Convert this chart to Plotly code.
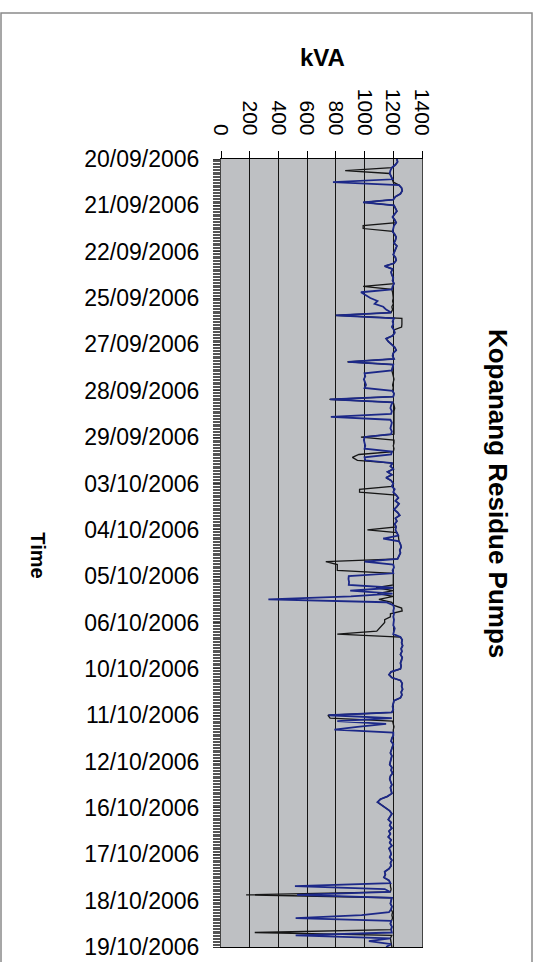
import plotly.graph_objects as go

# Category labels on the time axis (one label every 16 readings)
dates = ["20/09/2006", "21/09/2006", "22/09/2006", "25/09/2006", "27/09/2006",
         "28/09/2006", "29/09/2006", "03/10/2006", "04/10/2006", "05/10/2006",
         "06/10/2006", "10/10/2006", "11/10/2006", "12/10/2006", "16/10/2006",
         "17/10/2006", "18/10/2006", "19/10/2006"]
points_per_label = 16

# kVA readings, one row per labelled day
kva_blue = [
    1225, 1230, 1215, 1190, 1180, 1175, 1185, 1195, 780, 1240, 1258, 1262, 1250, 1215, 1200, 990,
    1205, 1215, 1225, 1210, 1195, 1210, 1220, 1205, 1200, 1195, 1210, 1220, 1215, 1205, 1225, 1215,
    1210, 1200, 1215, 1220, 1205, 1140, 1195, 1185, 1190, 1200, 1195, 1205, 1195, 1190, 975, 1005,
    1040, 1090, 1070, 1130, 1150, 1185, 800, 1205, 1195, 1200, 1190, 1205, 1210, 1195, 1150, 1165,
    1190, 1210, 1220, 1200, 1195, 1205, 885, 1200, 1195, 1190, 1000, 1005, 995, 1000, 1010, 1000,
    1195, 1205, 1200, 760, 1195, 1185, 1180, 1190, 1185, 765, 1180, 1190, 1185, 1180, 1190, 1185,
    1000, 995, 1000, 1005, 1000, 1190, 1185, 1000, 1005, 1195, 1180, 1200, 1160, 1190, 1150, 1185,
    1200, 1190, 1210, 1200, 1220, 1235, 1215, 1240, 1225, 1205, 1230, 1245, 1215, 1225, 1210, 1220,
    1215, 1225, 1235, 1130, 1240, 1250, 1255, 1245, 1250, 1240, 1230, 1000, 1200, 1205, 1195, 1200,
    890, 888, 892, 890, 1200, 900, 1195, 905, 330, 1150, 1200, 1205, 1200, 1205, 1200, 1205,
    1205, 1200, 1210, 1205, 1200, 1250, 1262, 1258, 1265, 1255, 1260, 1250, 1262, 1258, 1250, 1255,
    1250, 1185, 1170, 1190, 1250, 1262, 1258, 1265, 1255, 1260, 1250, 1205, 1200, 1195, 1200, 1190,
    750, 1190, 810, 1150, 950, 790, 1200, 1200, 1190, 1185, 1200, 1195, 1185, 1180, 1190, 1185,
    1180, 1175, 1190, 1185, 1195, 1180, 1175, 1185, 1190, 1180, 1185, 1190, 1160, 1110, 1090, 1120,
    1150, 1175, 1190, 1180, 1165, 1185, 1175, 1190, 1170, 1180, 1165, 1185, 1175, 1190, 1170, 1180,
    1185, 1175, 1190, 1180, 1185, 1170, 1140, 1145, 1135, 1170, 1180, 515, 1140, 1180, 530, 1190,
    1185, 1180, 1190, 1185, 1170, 980, 520, 1185, 1180, 1190, 1185, 1190, 520, 1180, 1030, 1185,
    1150,
]

kva_black = [
    1225, 1230, 1215, 1190, 865, 1175, 1185, 1195, 1200, 1240, 1258, 1262, 1250, 1215, 1200, 990,
    1205, 1215, 1225, 1210, 1195, 1210, 1220, 990, 990, 1195, 1210, 1220, 1215, 1205, 1225, 1215,
    1210, 1200, 1215, 1220, 1205, 1140, 1195, 1185, 1190, 1200, 1195, 1205, 990, 1190, 1195, 1200,
    1200, 1195, 1200, 1190, 1195, 1185, 795, 1260, 1262, 1260, 1258, 1205, 1210, 1195, 1150, 1165,
    1190, 1210, 1220, 1200, 1195, 1205, 880, 1200, 1195, 1190, 1195, 1200, 1205, 1200, 1195, 1200,
    1195, 1205, 1200, 755, 1200, 1205, 1210, 1205, 1205, 1210, 1205, 1210, 1205, 1205, 1210, 1205,
    975, 1205, 1205, 1200, 1205, 1200, 960, 915, 950, 1195, 1180, 1200, 1160, 1190, 1150, 1185,
    1200, 1190, 965, 965, 1220, 1235, 1215, 1240, 1225, 1205, 1230, 1245, 1215, 1225, 1210, 1220,
    1020, 1225, 1235, 1235, 1240, 1250, 1255, 1245, 1250, 1240, 1230, 730, 810, 810, 810, 1200,
    1200, 1200, 1205, 1200, 1080, 1200, 1090, 1200, 1100, 1190, 1200, 1258, 1262, 1180, 1180, 1140,
    1140, 1120, 1100, 1085, 810, 1250, 1262, 1258, 1265, 1255, 1260, 1250, 1262, 1258, 1250, 1255,
    1250, 1185, 1170, 1190, 1250, 1262, 1258, 1265, 1255, 1260, 1250, 1205, 1200, 1195, 1200, 1190,
    745, 760, 1195, 1200, 1205, 1200, 1200, 1200, 1190, 1185, 1200, 1195, 1185, 1180, 1190, 1185,
    1180, 1175, 1190, 1185, 1195, 1180, 1175, 1185, 1190, 1180, 1185, 1190, 1160, 1110, 1090, 1120,
    1150, 1175, 1190, 1180, 1165, 1185, 1175, 1190, 1170, 1180, 1165, 1185, 1175, 1190, 1170, 1180,
    1185, 1175, 1190, 1180, 1185, 1170, 1140, 1145, 1135, 1170, 1180, 1180, 1185, 1180, 175, 1190,
    1185, 1180, 1190, 1185, 1195, 1190, 1195, 1185, 1180, 1190, 1185, 235, 1190, 1180, 1185, 1190,
    1190,
]

kva_ticks = [0, 200, 400, 600, 800, 1000, 1200, 1400]

FONT = "Liberation Sans, Arial, sans-serif"
readings = list(range(len(kva_blue)))
label_pos = [k * points_per_label for k in range(len(dates))]
last = len(kva_blue) - 1

fig = go.Figure()
fig.add_trace(go.Scatter(x=kva_black, y=readings, mode="lines",
                         line=dict(color="#161616", width=1.3), showlegend=False))
fig.add_trace(go.Scatter(x=kva_blue, y=readings, mode="lines",
                         line=dict(color="#1C2888", width=1.8), showlegend=False))

fig.update_layout(
    width=540, height=962,
    margin=dict(l=221, r=118, t=159, b=15, autoexpand=False),
    paper_bgcolor="white",
    plot_bgcolor="#BEC0C3",
    font=dict(family=FONT, color="black"),
    xaxis=dict(
        side="top", range=[0, 1400], tickvals=kva_ticks,
        tickangle=90, tickfont=dict(size=21, family=FONT),
        ticks="outside", ticklen=7, tickcolor="black",
        showgrid=True, gridcolor="#141414", gridwidth=1.2,
        showline=True, linecolor="black", linewidth=1.2, mirror=True,
        zeroline=False, ticklabelstandoff=8, automargin=False,
        ticklabeloverflow="allow",
    ),
    yaxis=dict(
        range=[last, 0], tickvals=label_pos, ticktext=dates,
        tickfont=dict(size=23, family=FONT),
        ticks="outside", ticklen=7, tickcolor="#333",
        minor=dict(dtick=0.5, ticks="outside", ticklen=7, tickcolor="#555", tickwidth=1),
        showgrid=False, zeroline=False,
        showline=True, linecolor="#444", linewidth=1, mirror=True,
        ticklabelstandoff=9, automargin=False,
        ticklabeloverflow="allow",
    ),
    annotations=[
        dict(text="<b>kVA</b>", xref="paper", yref="paper", x=0.5025, y=1.1282,
             showarrow=False, font=dict(size=24, family=FONT), xanchor="center", yanchor="middle"),
        dict(text="<b>Kopanang Residue Pumps</b>", xref="paper", yref="paper", x=1.378, y=0.575,
             textangle=90, showarrow=False, font=dict(size=26, family=FONT),
             xanchor="center", yanchor="middle"),
        dict(text="<b>Time</b>", xref="paper", yref="paper", x=-0.91, y=0.497,
             textangle=90, showarrow=False, font=dict(size=20, family=FONT),
             xanchor="center", yanchor="middle"),
    ],
    shapes=[
        dict(type="rect", xref="paper", yref="paper", x0=-1.0945, x1=1.5473, y0=-0.03, y1=1.1853,
             line=dict(color="#8a8a8a", width=1.5), layer="below"),
    ],
)

fig.write_html("out.html")
